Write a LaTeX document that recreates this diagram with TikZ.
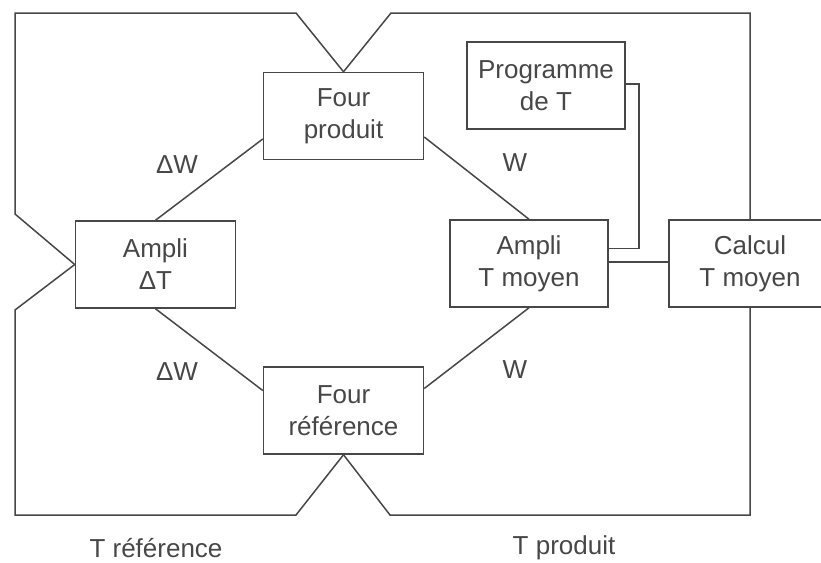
\documentclass[tikz,border=0pt]{standalone}
\usepackage{fontspec}
\setmainfont{Liberation Sans}
\definecolor{inkgray}{HTML}{474747}
\begin{document}
\begin{tikzpicture}[
    x=1pt, y=-1pt,
    line width=1.5pt,
    draw=inkgray,
    every node/.style={inner sep=0pt, text=inkgray, font=\fontsize{26}{32}\selectfont},
    bloc/.style={draw=inkgray, align=center, minimum width=160pt, minimum height=87pt}
]
\useasboundingbox (0,0) rectangle (821,562);

% Blocks
\node[bloc] (fourp) at (343.5,116) {Four\\produit};
\node[bloc] (fourr) at (343.5,410.5) {Four\\référence};
\node[bloc] (ampliD) at (155.5,264.5) {Ampli\\ΔT};
\node[bloc, minimum width=158pt] (ampliM) at (529,263.5) {Ampli\\T moyen};
\node[bloc, minimum width=158pt] (prog) at (546,85.5) {Programme\\de T};
\node[bloc, minimum width=162pt] (calcul) at (750,263.5) {Calcul\\T moyen};

% Power labels
\node (dw1) at (177,165) {ΔW};
\node (dw2) at (177,372) {ΔW};
\node (w1) at (515,163) {W};
\node (w2) at (515,370) {W};

% Thermocouple labels
\node (tref) at (156,548) {T référence};
\node (tprod) at (564,548) {T produit};

% Corners of the thermocouple loops
\coordinate (tl1) at (296,13);
\coordinate (tl2) at (15,13);
\coordinate (tl3) at (15,214);
\coordinate (tr1) at (391,13);
\coordinate (tr2) at (750,13);
\coordinate (bl1) at (15,310);
\coordinate (bl2) at (15,515);
\coordinate (bl3) at (296,515);
\coordinate (br1) at (390,515);
\coordinate (br2) at (750,515);

% Thermocouple loops
\draw[inkgray] (fourp.north) -- (tl1) -- (tl2) -- (tl3) -- (ampliD.west);
\draw[inkgray] (fourp.north) -- (tr1) -- (tr2) -- (calcul.north);
\draw[inkgray] (ampliD.west) -- (bl1) -- (bl2) -- (bl3) -- (fourr.south);
\draw[inkgray] (fourr.south) -- (br1) -- (br2) -- (calcul.south);

% Power lines
\draw[inkgray] (ampliD.north) -- ([yshift=-23pt]fourp.west);
\draw[inkgray] (ampliD.south) -- ([yshift=20pt]fourr.west);
\draw[inkgray] ([yshift=-21pt]fourp.east) -- (ampliM.north);
\draw[inkgray] (ampliM.south) -- ([yshift=22pt]fourr.east);

% Programme and mean temperature
\draw[inkgray] ([yshift=1.5pt]prog.east) -- ++(13,0) |- ([yshift=15pt]ampliM.east);
\draw[inkgray] ([yshift=1.5pt]ampliM.east) -- ([yshift=1.5pt]calcul.west);
\end{tikzpicture}
\end{document}
